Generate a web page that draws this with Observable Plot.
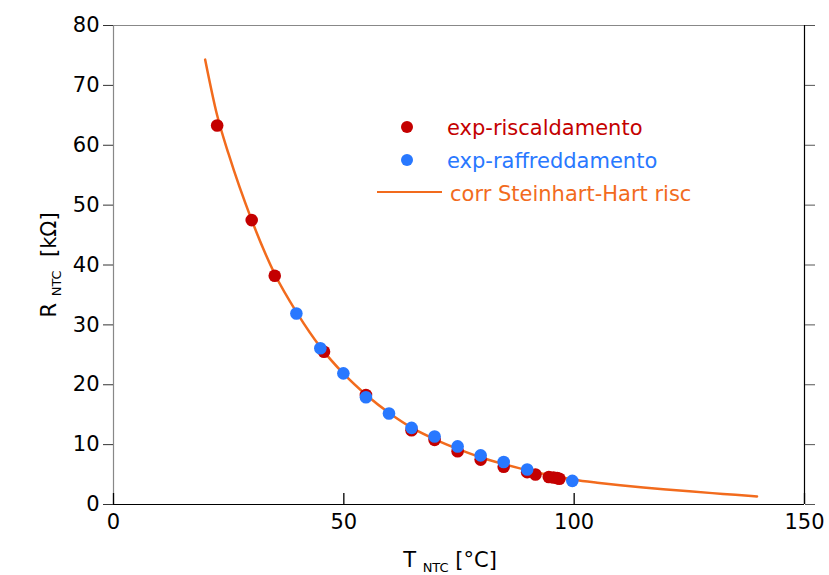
<!DOCTYPE html>
<html>
<head>
<meta charset="utf-8">
<script src="https://cdn.jsdelivr.net/npm/d3@7"></script>
<script src="https://cdn.jsdelivr.net/npm/@observablehq/plot@0.6"></script>
<style>
  html, body { margin: 0; padding: 0; background: #fff; }
  #chart { width: 829px; height: 575px; }
</style>
</head>
<body>
<div id="chart"></div>
<script>
// Heating series (exp-riscaldamento)
const heatT = [22.5, 30, 35, 45.7, 54.8, 64.7, 69.7, 74.7, 79.7, 84.7, 89.8, 91.6, 94.5, 95.5, 96.3, 96.8];
const heatR = [63.3, 47.5, 38.2, 25.5, 18.3, 12.4, 10.8, 8.9, 7.5, 6.3, 5.4, 5.0, 4.6, 4.5, 4.4, 4.3];
// Cooling series (exp-raffreddamento)
const coolT = [39.7, 44.9, 49.9, 54.8, 59.8, 64.7, 69.7, 74.7, 79.7, 84.7, 89.8, 99.6];
const coolR = [31.9, 26.1, 21.9, 17.9, 15.2, 12.8, 11.35, 9.7, 8.2, 7.1, 5.85, 3.95];
// Steinhart-Hart fit curve
const fitT = [19.9, 22.5, 25, 30, 35, 40, 45, 50, 55, 60, 65, 70, 75, 80, 85, 90, 95, 100, 105, 110, 115, 120, 125, 130, 135, 139.7];
const fitR = [74.3, 65.0, 58.5, 47.5, 38.5, 31.8, 26.2, 21.8, 18.2, 15.2, 12.7, 10.8, 9.2, 7.8, 6.7, 5.7, 4.85, 4.15, 3.65, 3.22, 2.85, 2.52, 2.2, 1.9, 1.61, 1.34];
const xTicks = [0, 50, 100, 150];
const yTicks = [0, 10, 20, 30, 40, 50, 60, 70, 80];

const legendItems = ["exp-riscaldamento", "exp-raffreddamento", "corr Steinhart-Hart risc"];
const colors = {heat: "#c40000", cool: "#2878ff", fit: "#f26b1d"};

const heat = heatT.map((t, i) => ({t, r: heatR[i]}));
const cool = coolT.map((t, i) => ({t, r: coolR[i]}));
const fit = fitT.map((t, i) => ({t, r: fitR[i]}));

const FONT = "'DejaVu Sans', sans-serif";

const chart = Plot.plot({
  width: 829,
  height: 575,
  marginLeft: 113,
  marginRight: 25,
  marginTop: 25,
  marginBottom: 71,
  style: {fontFamily: FONT, fontSize: "21px", color: "#000", background: "#fff", overflow: "visible"},
  x: {domain: [0, 150]},
  y: {domain: [0, 80]},
  marks: [
    Plot.ruleY([80], {stroke: "#888", strokeWidth: 1.2}),
    Plot.ruleX([0], {stroke: "#888", strokeWidth: 1.2}),
    Plot.ruleX([150], {stroke: "#000", strokeWidth: 1.2}),
    Plot.ruleY([0], {stroke: "#000", strokeWidth: 1.2}),
    Plot.axisY({ticks: yTicks, tickSize: 10, tickPadding: 4, label: null, fontSize: 21, stroke: "#333"}),
    Plot.axisY({anchor: "right", ticks: yTicks, tickSize: 10, tickFormat: () => "", label: null, stroke: "#555"}),
    // inward (upward) ticks on the bottom axis
    Plot.ruleX(xTicks, {insetTop: 468, stroke: "#000", strokeWidth: 1.3}),
    Plot.axisX({ticks: xTicks, tickSize: 0, tickPadding: 10, label: null, fontSize: 21}),
    Plot.line(fit, {x: "t", y: "r", stroke: colors.fit, strokeWidth: 2.5, curve: "monotone-x"}),
    Plot.dot(heat, {x: "t", y: "r", r: 6.3, fill: colors.heat}),
    Plot.dot(cool, {x: "t", y: "r", r: 6.3, fill: colors.cool})
  ]
});

document.getElementById("chart").appendChild(chart);

const svg = d3.select(chart);

// Axis titles with subscripts
const xl = svg.append("text")
  .attr("x", 450).attr("y", 567)
  .attr("text-anchor", "middle")
  .style("font-family", FONT).style("font-size", "21px").attr("fill", "#000");
xl.append("tspan").text("T ");
xl.append("tspan").text("NTC").style("font-size", "13px").attr("dy", 5);
xl.append("tspan").text(" [°C]").attr("dy", -5);

const yl = svg.append("text")
  .attr("transform", "translate(56,265) rotate(-90)")
  .attr("text-anchor", "middle")
  .style("font-family", FONT).style("font-size", "21px").attr("fill", "#000");
yl.append("tspan").text("R ");
yl.append("tspan").text("NTC").style("font-size", "13px").attr("dy", 5);
yl.append("tspan").text("  [kΩ]").attr("dy", -5);

// Legend
const lg = svg.append("g").style("font-family", FONT).style("font-size", "21px").attr("text-anchor", "start");
lg.append("circle").attr("cx", 407).attr("cy", 127).attr("r", 6).attr("fill", colors.heat);
lg.append("text").attr("x", 447).attr("y", 135).attr("fill", colors.heat).attr("text-anchor", "start").text(legendItems[0]);
lg.append("circle").attr("cx", 407).attr("cy", 160).attr("r", 6).attr("fill", colors.cool);
lg.append("text").attr("x", 447).attr("y", 168).attr("fill", colors.cool).attr("text-anchor", "start").text(legendItems[1]);
lg.append("line").attr("x1", 377).attr("x2", 442).attr("y1", 192).attr("y2", 192)
  .attr("stroke", colors.fit).attr("stroke-width", 2);
lg.append("text").attr("x", 450).attr("y", 201).attr("fill", colors.fit).attr("text-anchor", "start").text(legendItems[2]);
</script>
</body>
</html>
